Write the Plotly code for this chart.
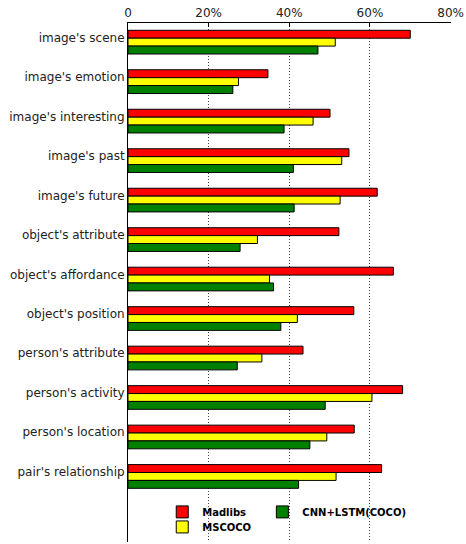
import plotly.graph_objects as go

categories = ["image's scene", "image's emotion", "image's interesting", "image's past",
              "image's future", "object's attribute", "object's affordance", "object's position",
              "person's attribute", "person's activity", "person's location", "pair's relationship"]
madlibs = [70.0, 34.7, 50.1, 54.8, 61.8, 52.3, 65.8, 56.0, 43.4, 68.1, 56.1, 62.9]
mscoco = [51.4, 27.4, 45.9, 53.0, 52.6, 32.1, 35.1, 42.0, 33.2, 60.5, 49.3, 51.6]
cnn_lstm = [47.1, 26.0, 38.7, 41.0, 41.2, 27.8, 36.1, 37.9, 27.1, 48.9, 45.1, 42.3]
tick_vals = [0, 20, 40, 60, 80]
tick_text = ["0", "20%", "40%", "60%", "80%"]

series = [("Madlibs", madlibs, "#ff0000", -0.18, "legend2"),
          ("MSCOCO", mscoco, "#ffff00", 0.02, "legend3"),
          ("CNN+LSTM(COCO)", cnn_lstm, "#008000", 0.22, "legend4")]

fig = go.Figure()
for name, vals, color, off, leg in series:
    fig.add_trace(go.Bar(
        y=categories, x=vals, orientation="h", name=name,
        marker=dict(color=color, line=dict(color="black", width=1)),
        width=0.2, offset=off, legend=leg, showlegend=True,
    ))

legfont = dict(family="DejaVu Sans", size=10, color="black", weight="bold")
common = dict(xanchor="left", yanchor="middle", font=legfont,
              bgcolor="rgba(0,0,0,0)", borderwidth=0)
fig.update_layout(
    width=466, height=544,
    margin=dict(l=128, r=15, t=23, b=2, autoexpand=False),
    paper_bgcolor="white", plot_bgcolor="white",
    barmode="overlay",
    font=dict(family="DejaVu Sans", size=12, color="#222222"),
    legend2=dict(x=0.106, y=0.058, **common),
    legend3=dict(x=0.106, y=0.029, **common),
    legend4=dict(x=0.416, y=0.058, **common),
    xaxis=dict(side="top", range=[0, 80.1], tickvals=tick_vals, ticktext=tick_text,
               showline=True, linecolor="black", linewidth=1, automargin=False,
               showgrid=True, gridcolor="#444444", griddash="1px,2px", gridwidth=1,
               ticks="inside", ticklen=4, tickcolor="black", zeroline=False,
               tickfont=dict(size=12, color="#222222")),
    yaxis=dict(type="category", range=[12.78, -0.365], showline=True, linecolor="black",
               linewidth=1, ticks="", showgrid=False, automargin=False,
               tickfont=dict(size=12, color="#222222")),
)

fig.write_html("out.html", config={"displayModeBar": False},
               post_script="document.body.style.margin='0px';")
